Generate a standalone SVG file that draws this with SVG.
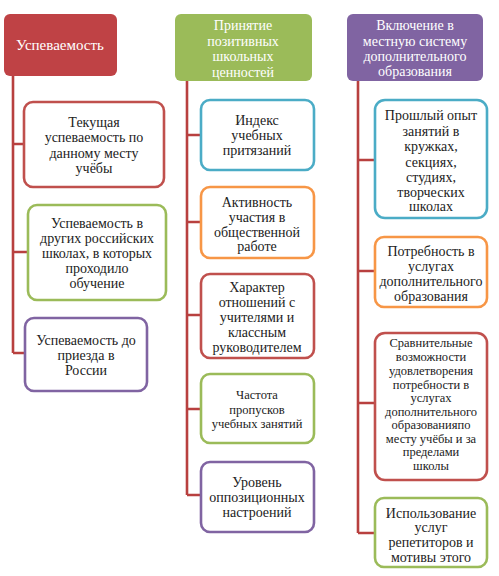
<svg xmlns="http://www.w3.org/2000/svg" width="499" height="576" viewBox="0 0 499 576" font-family="'Liberation Serif', 'DejaVu Serif', serif">
<style>
text{font-family:'Liberation Serif','DejaVu Serif',serif;font-size:14px;fill:#222;text-anchor:middle;dominant-baseline:central}
.h text{fill:#fff}
.hb{stroke:none}
.b{fill:#fff;stroke-width:2.6}
.red{stroke:#c0504d}.grn{stroke:#9bbb59}.pur{stroke:#8064a2}.blu{stroke:#4bacc6}.org{stroke:#f79646}
.c{stroke:#b8403f;stroke-width:2.6;fill:none}
.sm{font-size:12.5px}
</style>
<rect width="499" height="576" fill="#fff"/>
<g id="connectors">
<path class="c" d="M13 76V353M13 144H24M13 252H28M13 353H25"/>
<path class="c" d="M187 81V495M187 135H201M187 222H201M187 315H201M187 409H201M187 495H201"/>
<path class="c" d="M358 81V533M358 160H375M358 271H375M358 403H375M358 533H375"/>
</g>
<g id="h1" class="h"><rect class="hb" x="4" y="14" width="113" height="62" rx="6" fill="#bf4245"/><text x="60" y="45" style="font-size:15px">Успеваемость</text></g>
<g id="h2" class="h"><rect class="hb" x="175" y="14" width="137" height="67" rx="6" fill="#9bbb59"/>
<text x="243" y="25">Принятие</text><text x="243" y="41">позитивных</text><text x="243" y="56">школьных</text><text x="243" y="72">ценностей</text></g>
<g id="h3" class="h"><rect class="hb" x="347" y="14" width="136" height="67" rx="6" fill="#8064a2"/>
<text x="415" y="25">Включение в</text><text x="415" y="41">местную систему</text><text x="415" y="56">дополнительного</text><text x="415" y="71">образования</text></g>

<g id="n1"><rect class="b red" x="24" y="102" width="140" height="85" rx="9"/>
<text x="94" y="122">Текущая</text><text x="94" y="137">успеваемость по</text><text x="94" y="153">данному месту</text><text x="94" y="168">учёбы</text></g>
<g id="n2"><rect class="b grn" x="28" y="205" width="138" height="95" rx="9"/>
<text x="97" y="223">Успеваемость в</text><text x="97" y="238">других российских</text><text x="97" y="253">школах, в которых</text><text x="97" y="268">проходило</text><text x="97" y="283">обучение</text></g>
<g id="n3"><rect class="b pur" x="25" y="318" width="122" height="73" rx="9"/>
<text x="86" y="340">Успеваемость до</text><text x="86" y="355">приезда в</text><text x="86" y="370">России</text></g>

<g id="n4"><rect class="b blu" x="201" y="100" width="113" height="70" rx="9"/>
<text x="257" y="120">Индекс</text><text x="257" y="135">учебных</text><text x="257" y="150">притязаний</text></g>
<g id="n5"><rect class="b org" x="201" y="187" width="113" height="71" rx="9"/>
<text x="257" y="202">Активность</text><text x="257" y="217">участия в</text><text x="257" y="232">общественной</text><text x="257" y="246">работе</text></g>
<g id="n6"><rect class="b red" x="201" y="274" width="113" height="84" rx="9"/>
<text x="257" y="287">Характер</text><text x="257" y="302">отношений с</text><text x="257" y="317">учителями и</text><text x="257" y="332">классным</text><text x="257" y="347">руководителем</text></g>
<g id="n7"><rect class="b grn" x="201" y="374" width="113" height="69" rx="9"/>
<text class="sm" x="257" y="395">Частота</text><text class="sm" x="257" y="410">пропусков</text><text class="sm" x="257" y="424">учебных занятий</text></g>
<g id="n8"><rect class="b pur" x="201" y="462" width="113" height="70" rx="9"/>
<text x="257" y="482">Уровень</text><text x="257" y="497">оппозиционных</text><text x="257" y="512">настроений</text></g>

<g id="n9"><rect class="b blu" x="375" y="100" width="112" height="118" rx="10"/>
<text x="431" y="115">Прошлый опыт</text><text x="431" y="131">занятий в</text><text x="431" y="146">кружках,</text><text x="431" y="162">секциях,</text><text x="431" y="177">студиях,</text><text x="431" y="192">творческих</text><text x="431" y="206">школах</text></g>
<g id="n10"><rect class="b org" x="375" y="237" width="112" height="70" rx="9"/>
<text x="431" y="251">Потребность в</text><text x="431" y="266">услугах</text><text x="431" y="281">дополнительного</text><text x="431" y="296">образования</text></g>
<g id="n11"><rect class="b red" x="375" y="333" width="112" height="147" rx="10"/>
<text class="sm" x="431" y="343">Сравнительные</text><text class="sm" x="431" y="357">возможности</text><text class="sm" x="431" y="371">удовлетворения</text><text class="sm" x="431" y="385">потребности в</text><text class="sm" x="431" y="398">услугах</text><text class="sm" x="431" y="412">дополнительного</text><text class="sm" x="431" y="425">образованияпо</text><text class="sm" x="431" y="439">месту учёбы и за</text><text class="sm" x="431" y="452">пределами</text><text class="sm" x="431" y="466">школы</text></g>
<g id="n12"><rect class="b grn" x="375" y="498" width="112" height="69" rx="9"/>
<text x="431" y="513">Использование</text><text x="431" y="527">услуг</text><text x="431" y="542">репетиторов и</text><text x="431" y="557">мотивы этого</text></g>
</svg>
